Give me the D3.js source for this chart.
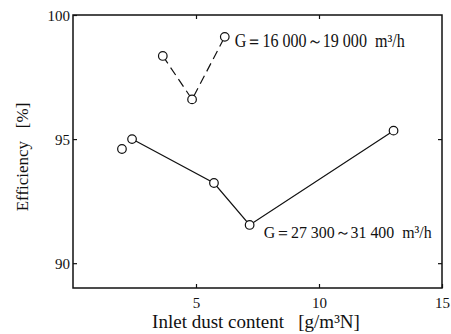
<!DOCTYPE html>
<html>
<head>
<meta charset="utf-8">
<script src="https://cdn.jsdelivr.net/npm/d3@7"></script>
<style>
  body { margin: 0; background: #fff; }
  text { font-family: "Liberation Serif", "DejaVu Serif", serif; fill: #111; }
</style>
</head>
<body>
<script>
// data
let low_flow_x = [3.65, 4.84, 6.17]
let low_flow_y = [98.35, 96.6, 99.12]
let high_flow_x = [1.99, 2.4, 5.73, 7.18, 13.03]
let high_flow_y = [94.6, 95.0, 93.23, 91.54, 95.34]
let x_ticks = [5, 10, 15]
let y_ticks = [90, 95, 100]
let low_label = 'G\uFF1D16 000\uFF5E19 000  m\u00B3/h'
let high_label = 'G\uFF1D27 300\uFF5E31 400  m\u00B3/h'

let width = 451
let height = 334
let margin = {left: 73, right: 9, top: 15, bottom: 46}
let tickLen = 4
let pointRadius = 4.3

let x = d3.scaleLinear().domain([0, 15]).range([margin.left, width - margin.right])
let y = d3.scaleLinear().domain([89, 100]).range([height - margin.bottom, margin.top])

let svg = d3.select('body').append('svg')
    .attr('width', width)
    .attr('height', height)

// frame
svg.append('rect')
    .attr('x', x(0))
    .attr('y', y(100))
    .attr('width', x(15) - x(0))
    .attr('height', y(89) - y(100))
    .attr('fill', 'none')
    .attr('stroke', '#111')
    .attr('stroke-width', 1.5)

// axes with inward ticks
let xAxis = svg.append('g')
    .attr('transform', `translate(0,${y(89)})`)
    .call(d3.axisBottom(x).tickValues(x_ticks).tickSizeInner(-tickLen).tickSizeOuter(0).tickPadding(9))
let xTop = svg.append('g')
    .attr('transform', `translate(0,${y(100)})`)
    .call(d3.axisTop(x).tickValues([5, 10]).tickSizeInner(-tickLen).tickSizeOuter(0).tickFormat(''))
let yAxis = svg.append('g')
    .attr('transform', `translate(${x(0)},0)`)
    .call(d3.axisLeft(y).tickValues(y_ticks).tickSizeInner(-tickLen).tickSizeOuter(0).tickPadding(3))
let yRight = svg.append('g')
    .attr('transform', `translate(${x(15)},0)`)
    .call(d3.axisRight(y).tickValues([90, 95]).tickSizeInner(-tickLen).tickSizeOuter(0).tickFormat(''))

for (let g of [xAxis, xTop, yAxis, yRight]) {
    g.select('.domain').remove()
    g.selectAll('line').attr('stroke', '#111').attr('stroke-width', 1.2)
    g.selectAll('text')
        .attr('font-family', '"Liberation Serif", serif')
        .attr('font-size', 15)
        .attr('fill', '#111')
}
yAxis.selectAll('text').attr('dy', '0.35em')

// series
let line = d3.line().x(d => x(d[0])).y(d => y(d[1]))
let low_data = d3.zip(low_flow_x, low_flow_y)
let high_data = d3.zip(high_flow_x, high_flow_y)

svg.append('path')
    .datum(high_data.slice(1))
    .attr('d', line)
    .attr('fill', 'none')
    .attr('stroke', '#111')
    .attr('stroke-width', 1.2)

svg.append('path')
    .datum(low_data)
    .attr('d', line)
    .attr('fill', 'none')
    .attr('stroke', '#111')
    .attr('stroke-width', 1.2)
    .attr('stroke-dasharray', '9,5')

svg.selectAll('circle')
    .data(low_data.concat(high_data))
    .enter()
    .append('circle')
    .attr('cx', d => x(d[0]))
    .attr('cy', d => y(d[1]))
    .attr('r', pointRadius)
    .attr('fill', '#fff')
    .attr('stroke', '#111')
    .attr('stroke-width', 1.2)

// series labels
svg.append('text')
    .attr('x', x(6.17) + 10)
    .attr('y', y(99.12) + 10)
    .attr('font-size', 18)
    .attr('xml:space', 'preserve')
    .attr('textLength', 170)
    .attr('lengthAdjust', 'spacingAndGlyphs')
    .text(low_label)
svg.append('text')
    .attr('x', x(7.18) + 14)
    .attr('y', y(91.54) + 13)
    .attr('font-size', 17)
    .attr('xml:space', 'preserve')
    .attr('textLength', 168)
    .attr('lengthAdjust', 'spacingAndGlyphs')
    .text(high_label)

// axis titles
svg.append('text')
    .attr('x', 256)
    .attr('y', 328)
    .attr('text-anchor', 'middle')
    .attr('font-size', 19)
    .attr('xml:space', 'preserve')
    .text('Inlet dust content   [g/m\u00B3N]')
svg.append('text')
    .attr('transform', 'translate(28,157) rotate(-90)')
    .attr('text-anchor', 'middle')
    .attr('font-size', 17)
    .attr('xml:space', 'preserve')
    .text('Efficiency   [%]')
</script>
</body>
</html>
